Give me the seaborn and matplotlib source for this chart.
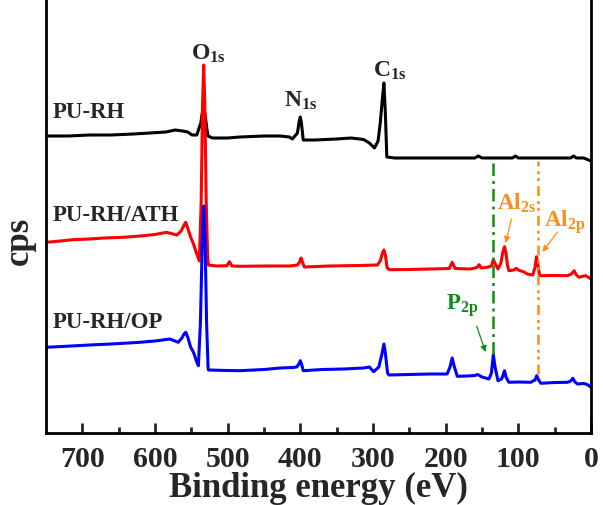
import matplotlib
matplotlib.use("Agg")
import matplotlib.pyplot as plt
import pandas as pd
import seaborn as sns

# XPS survey spectra: binding energy (eV) and stacked intensity (a.u.)
pu_rh_energy = [750, 720, 690, 660, 630, 607, 585, 572, 562, 555, 549, 542.5, 537, 535, 533,
                531, 529, 527, 521, 500, 483, 450, 428, 415, 411, 404, 401.5, 400, 398.5, 396,
                380, 350, 330, 313, 305, 298, 293, 290, 287, 285, 283, 281, 270, 221, 160, 155,
                150, 108, 104, 100, 60, 28, 24, 20, 10, 0]
pu_rh_cps = [297, 297, 298, 298, 299, 300, 301, 303, 302, 301, 298, 298, 310, 320, 326,
             318, 306, 297, 295, 295, 296, 297, 297, 296, 294, 300, 312, 316, 310, 293,
             293, 294, 295, 293.5, 290, 285, 292, 310, 335, 350, 320, 276, 275, 275, 275, 277,
             275, 275, 277, 275, 275, 275, 277, 275, 275, 272]

ath_energy = [750, 730, 713, 690, 670, 644, 620, 600, 584, 570, 564, 560, 557.7, 555, 551, 547,
              543, 539, 536.5, 534.5, 533, 531.5, 529.5, 527.5, 526.5, 515, 501, 497.6, 494,
              482.8, 450, 414, 404, 401, 399, 396.5, 394.5, 360, 320, 294, 290, 287, 285, 283,
              280.5, 277, 250, 221, 195, 191, 187, 166, 157, 154, 151, 143, 137, 134.4, 131,
              128, 124, 121, 119, 117, 115, 113, 106, 103, 100, 92, 87.5, 80, 77, 75, 73,
              70.6, 50, 32.4, 27, 23.3, 20, 16.4, 10, 7.2, 3, 0]
ath_cps = [190.7, 192, 193.3, 194, 195, 195.7, 197, 198.5, 200.7, 198, 202, 208, 210.7, 205,
           196, 189, 180, 172, 230, 330, 368, 330, 230, 175, 168, 167, 167.3, 171.3, 167,
           166.7, 167, 167, 168, 171, 175, 170, 166, 167, 167.5, 168, 172, 180, 183, 178,
           165, 163.3, 163.5, 164, 164.5, 170.7, 164.5, 164, 165.5, 168.3, 165, 165.7, 167,
           173.3, 168, 164, 170, 182, 186.3, 180, 168, 162.3, 163, 164.7, 163, 161, 159, 158,
           166, 176.3, 168, 157.3, 157.5, 157.3, 159, 162.3, 158, 155.7, 157, 157.3, 155.5, 154]

op_energy = [750, 720, 690, 660, 621, 600, 579.4, 568, 563, 560, 557.7, 555, 551, 547, 543,
             540.3, 537.5, 535, 533, 531, 529, 527, 526.5, 500, 483, 450, 428, 410, 405, 402,
             400, 398, 396, 370, 340, 313, 305, 299, 292, 288, 285, 283, 280, 278, 250, 221,
             198, 194, 191, 188, 184, 170, 160, 156, 150, 140.4, 137, 134.4, 132, 128, 123,
             121, 119, 117, 113, 100, 83, 77, 74.7, 72, 69, 50, 32.4, 28, 25, 22, 18.6, 10,
             7.2, 3, 0]
op_cps = [85.7, 86.8, 88, 89, 90.7, 92, 94, 90.7, 95, 99, 100.7, 96, 86, 80.7, 72,
          67.3, 110, 190, 227, 190, 110, 66, 63, 62.5, 62.3, 63.5, 65, 65.5, 66, 69,
          72.3, 68, 62.3, 63.5, 64, 65, 66, 61.3, 66, 78, 89, 80, 60, 58, 58.5, 59,
          59, 66, 75, 66, 56.7, 57, 57.5, 58.5, 56, 54, 60, 78.3, 66, 52.3, 54,
          58, 62.3, 56, 50.7, 51, 50.7, 53, 57.3, 53, 49.7, 50.5, 50.7, 52, 54.7, 51, 49, 49.5,
          49, 47.5, 45.7]

sample_names = ["PU-RH", "PU-RH/ATH", "PU-RH/OP"]
sample_colors = ["black", "#ff0000", "#0000ff"]

# core-level labels: text, energy of left edge, baseline height
core_labels = ["O$_{1s}$", "N$_{1s}$", "C$_{1s}$"]
core_label_x = [550, 422, 300]
core_label_y = [374, 327, 357]

p2p_energy = 134.4
al2p_energy = 73.0
x_ticks = [700, 600, 500, 400, 300, 200, 100, 0]

sns.set_theme(style="ticks")
plt.rcParams["font.family"] = ["Liberation Serif", "DejaVu Serif"]
plt.rcParams["font.weight"] = "bold"
plt.rcParams["mathtext.fontset"] = "custom"
plt.rcParams["mathtext.rm"] = "Liberation Serif:bold"
plt.rcParams["mathtext.it"] = "Liberation Serif:bold"
plt.rcParams["mathtext.bf"] = "Liberation Serif:bold"
plt.rcParams["mathtext.default"] = "rm"

fig = plt.figure(figsize=(6.03, 5.06), dpi=100)
ax = fig.add_axes([46 / 603, 72 / 506, 545 / 603, 434 / 506])

spectra = [(pu_rh_energy, pu_rh_cps), (ath_energy, ath_cps), (op_energy, op_cps)]
for (energy, cps), name, color in zip(spectra, sample_names, sample_colors):
    df = pd.DataFrame({"energy": energy, "cps": cps})
    sns.lineplot(data=df, x="energy", y="cps", ax=ax, color=color, lw=2.2,
                 sort=False, estimator=None)

# guide lines for P 2p and Al 2p
ax.plot([p2p_energy, p2p_energy], [79, 272], color="#138a13", lw=1.8,
        dashes=(5, 2, 1.2, 2))
ax.plot([al2p_energy, al2p_energy], [59, 272], color="#ff8c1a", lw=1.8,
        dashes=(4, 2, 1.2, 1.5, 1.2, 2))

ax.set_xlim(750, 0)
ax.set_ylim(0, 434)
ax.set_xticks(x_ticks)
ax.set_xticks(range(650, 0, -100), minor=True)
ax.set_yticks([])
ax.tick_params(axis="x", which="major", direction="in", length=7, width=2,
               labelsize=21.5, pad=9, top=False)
ax.tick_params(axis="x", which="minor", direction="in", length=4.5, width=2, top=False)
for lab in ax.get_xticklabels():
    lab.set_fontweight("bold")
for side in ["left", "right", "bottom"]:
    ax.spines[side].set_linewidth(2)
    ax.spines[side].set_color("black")
ax.spines["top"].set_visible(False)

ax.set_xlabel("Binding energy (eV)", fontsize=25, fontweight="bold", labelpad=-1)
ax.set_ylabel("cps", fontsize=25, fontweight="bold")
ax.yaxis.set_label_coords(-0.019, 0.445)

# sample names
for name, y in zip(sample_names, [316.5, 213, 105.5]):
    ax.text(741, y, name, fontsize=16.5, fontweight="bold", va="baseline", ha="left")

for txt, x, y in zip(core_labels, core_label_x, core_label_y):
    ax.text(x, y, txt, fontsize=17, fontweight="bold", va="baseline", ha="left")

ax.text(130, 224, "Al$_{2s}$", fontsize=16.5, color="#ff8c1a", va="baseline", ha="left")
ax.text(65, 207, "Al$_{2p}$", fontsize=16.5, color="#ff8c1a", va="baseline", ha="left")
ax.text(199, 124, "P$_{2p}$", fontsize=16.5, color="#138a13", va="baseline", ha="left")

arrow_kw = dict(arrowstyle="-|>", lw=0.9, mutation_scale=9, shrinkA=0, shrinkB=0)
ax.annotate("", xy=(117.4, 190), xytext=(109.5, 214),
            arrowprops=dict(color="#ff8c1a", **arrow_kw))
ax.annotate("", xy=(66.8, 181), xytext=(46.1, 201),
            arrowprops=dict(color="#ff8c1a", **arrow_kw))
ax.annotate("", xy=(145, 81), xytext=(157.4, 107),
            arrowprops=dict(color="#138a13", **arrow_kw))

fig.savefig("out.png", dpi=100)
